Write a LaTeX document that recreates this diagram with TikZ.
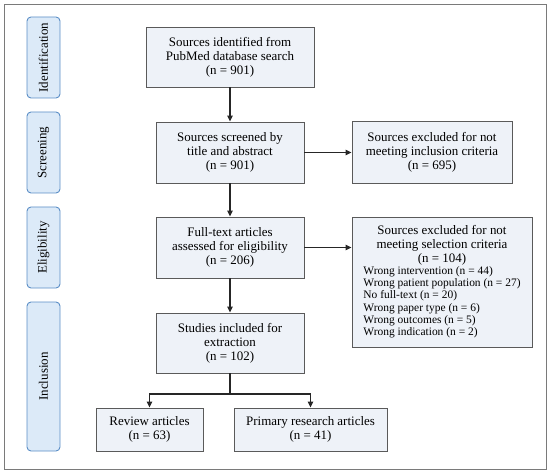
\documentclass[tikz,border=0pt]{standalone}
\usepackage{fontspec}
\setmainfont{Liberation Serif}
\usetikzlibrary{arrows.meta}
\definecolor{boxfill}{HTML}{EEF2F8}
\definecolor{boxline}{HTML}{5A5A5A}
\definecolor{sidefill}{HTML}{DCEAF8}
\definecolor{sideline}{HTML}{5B8EC6}
\definecolor{frameline}{HTML}{7A7A7A}
\begin{document}
\begin{tikzpicture}[x=1bp,y=-1bp,
  box/.style={draw=boxline, line width=0.9bp, fill=boxfill, align=center, inner sep=0pt,
    font=\fontsize{13}{14.2}\selectfont},
  side/.style={draw=sideline, line width=0.9bp, fill=sidefill, rounded corners=4bp, rotate=90,
    minimum height=33bp, inner sep=0pt, font=\fontsize{13}{14.2}\selectfont},
  arr/.style={line width=1.2bp, draw=black!85, -{Triangle[length=6bp,width=5.5bp]}},
  ln/.style={line width=1.2bp, draw=black!85}]
\useasboundingbox (0,0) rectangle (550,473);
\draw[frameline, line width=0.9bp] (4,4) rectangle (546,469);
% side labels
\node[side, minimum width=81bp] (sid) at (43.5,57.5) {Identification};
\node[side, minimum width=81bp] (ssc) at (43.5,152.5) {Screening};
\node[side, minimum width=81bp] (sel) at (43.5,247.5) {Eligibility};
\node[side, minimum width=149bp] (sin) at (43.5,376.5) {Inclusion};
% main boxes
\node[box, minimum width=168bp, minimum height=60bp] (b1) at (230,57) {Sources identified from\\PubMed database search\\(n = 901)};
\node[box, minimum width=148bp, minimum height=61bp] (b2) at (230,152.5) {Sources screened by\\title and abstract\\(n = 901)};
\node[box, minimum width=148bp, minimum height=61bp] (b3) at (230,247.5) {Full-text articles\\assessed for eligibility\\(n = 206)};
\node[box, minimum width=148bp, minimum height=60bp] (b4) at (230,343) {Studies included for\\extraction\\(n = 102)};
\node[box, minimum width=107bp, minimum height=43bp] (rev) at (149.5,429.5) {Review articles\\(n = 63)};
\node[box, minimum width=153bp, minimum height=43bp] (pri) at (310.5,429.5) {Primary research articles\\(n = 41)};
\node[box, minimum width=160bp, minimum height=62bp] (ex1) at (432,152) {Sources excluded for not\\meeting inclusion criteria\\(n = 695)};
\node[box, minimum width=180bp, minimum height=130bp] (ex2) at (442,282) {Sources excluded for not\\meeting selection criteria\\(n = 104)\\
{\fontsize{11.5}{12.2}\selectfont\renewcommand\arraystretch{1}\begin{tabular}{@{}l@{}}Wrong intervention (n = 44)\\Wrong patient population (n = 27)\\No full-text (n = 20)\\Wrong paper type (n = 6)\\Wrong outcomes (n = 5)\\Wrong indication (n = 2)\end{tabular}}};
% connectors
\draw[arr] (b1) -- (b2);
\draw[arr] (b2) -- (b3);
\draw[arr] (b3) -- (b4);
\draw[arr] (b2.east) -- (ex1.west |- b2.east);
\draw[arr] (b3.east) -- (ex2.west |- b3.east);
\coordinate (split) at (230,394);
\draw[ln] (b4.south) -- (split);
\draw[arr] (split) -| (rev.north);
\draw[arr] (split) -| (pri.north);
\end{tikzpicture}
\end{document}
